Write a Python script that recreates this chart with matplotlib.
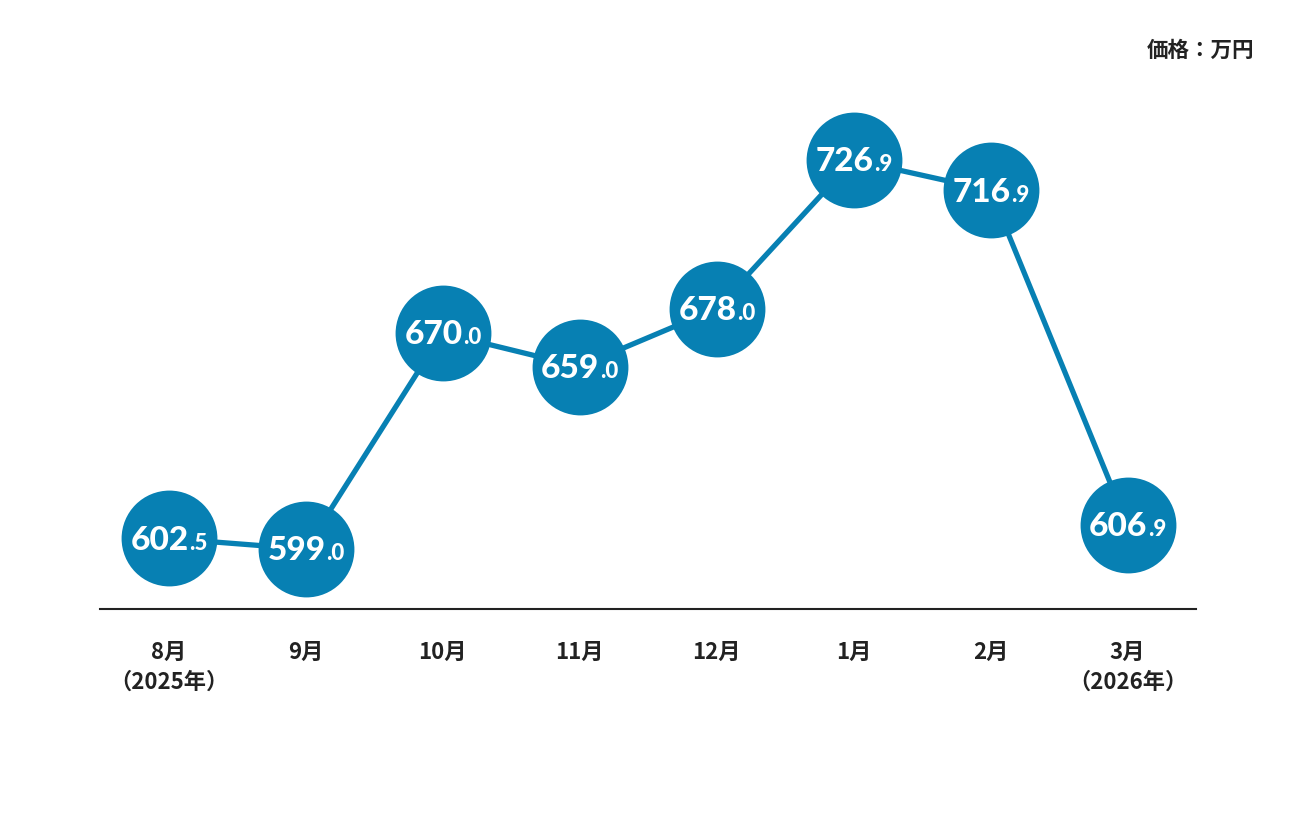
import matplotlib.pyplot as plt
from matplotlib.transforms import offset_copy

months = ['8月\n（2025年）', '9月', '10月', '11月', '12月', '1月', '2月', '3月\n（2026年）']
prices = [602.5, 599.0, 670.0, 659.0, 678.0, 726.9, 716.9, 606.9]
unit_label = '価格：万円'

blue = '#0780b3'
dark = '#222222'
jp_font = ['Noto Sans CJK JP', 'DejaVu Sans']

plt.rcParams['font.family'] = jp_font

fig = plt.figure(figsize=(12.96, 8.16), dpi=100)
ax = fig.add_axes([100 / 1296, 1 - 609 / 816, 1096 / 1296, 609 / 816])

x = list(range(len(prices)))
ax.plot(x, prices, color=blue, lw=3.8, zorder=2, solid_capstyle='round')
ax.plot(x, prices, 'o', color=blue, markersize=69, markeredgewidth=0, zorder=3)

ax.set_xlim(-0.5, 7.5)
ax.set_ylim(579.3, 779.5)

for side in ['top', 'right', 'left']:
    ax.spines[side].set_visible(False)
ax.spines['bottom'].set_color(dark)
ax.spines['bottom'].set_linewidth(1.5)
ax.set_yticks([])
ax.set_xticks(x)
ax.set_xticklabels(months, fontsize=16, fontweight='bold', color=dark, linespacing=1.4)
ax.tick_params(axis='x', length=0, pad=23)

# value labels: big integer part + small decimal part, centred together in the circle
fig.canvas.draw()
renderer = fig.canvas.get_renderer()
for xi, v in zip(x, prices):
    whole, frac = ('%.1f' % v).split('.')
    t1 = ax.text(xi, v, whole, fontsize=24, fontweight='black', color='white',
                 family=['Lato', 'DejaVu Sans'], ha='left', va='baseline', zorder=4)
    t2 = ax.text(xi, v, '.' + frac, fontsize=16, fontweight='black', color='white',
                 family=['Lato', 'DejaVu Sans'], ha='left', va='baseline', zorder=4)
    w1 = t1.get_window_extent(renderer).width * 72 / fig.dpi
    w2 = t2.get_window_extent(renderer).width * 72 / fig.dpi
    left = -(w1 + w2) / 2
    t1.set_transform(offset_copy(ax.transData, fig=fig, x=left, y=-8, units='points'))
    t2.set_transform(offset_copy(ax.transData, fig=fig, x=left + w1 + 0.5, y=-8, units='points'))

fig.text(1254 / 1296, 1 - 50 / 816, unit_label, fontsize=15.5, fontweight='bold',
         color=dark, ha='right', va='center')

fig.savefig('out.png', dpi=100, facecolor='white')
